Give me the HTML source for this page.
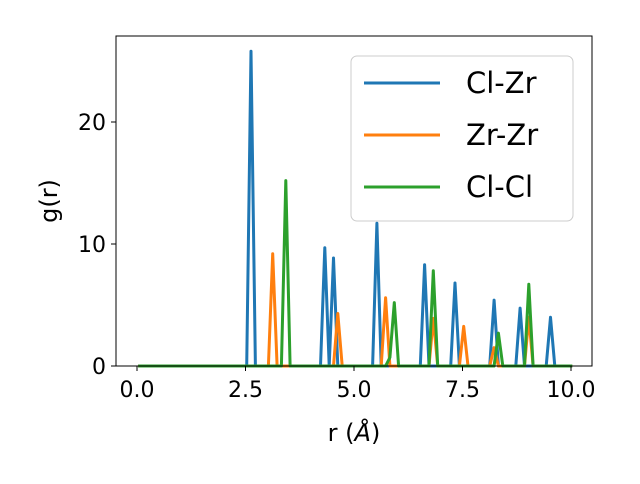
<!DOCTYPE html>
<html><head><meta charset="utf-8"><style>
body{margin:0;background:#fff;font-family:"DejaVu Sans","Liberation Sans",sans-serif}
svg text{font-family:"DejaVu Sans","Liberation Sans",sans-serif}
</style></head><body>
<svg width="640" height="480" xmlns="http://www.w3.org/2000/svg">
<rect width="640" height="480" fill="#fff"/>
<g id="plot"></g>
<rect x="116" y="36" width="476" height="330" fill="none" stroke="#000" stroke-width="1"/>
<g id="ticks"></g>
<text x="354" y="441" font-size="24" text-anchor="middle">r (<tspan font-style="italic">Å</tspan>)</text>
<text transform="translate(57,201) rotate(-90)" font-size="24" text-anchor="middle">g(r)</text>
<g>
<rect x="351" y="56" width="222" height="165" rx="6" fill="#fff" fill-opacity="0.8" stroke="#ccc"/>
<line x1="364" y1="83" x2="440" y2="83" stroke="#1f77b4" stroke-width="3"/>
<text x="466" y="93" font-size="29">Cl-Zr</text>
<line x1="364" y1="135" x2="440" y2="135" stroke="#ff7f0e" stroke-width="3"/>
<text x="466" y="145" font-size="29">Zr-Zr</text>
<line x1="364" y1="187" x2="440" y2="187" stroke="#2ca02c" stroke-width="3"/>
<text x="466" y="197" font-size="29">Cl-Cl</text>
</g>
</svg>
<script>
const xTicks=[0,2.5,5,7.5,10];
const xTickLabels=["0.0","2.5","5.0","7.5","10.0"];
const yTicks=[0,10,20];
const yTickLabels=["0","10","20"];
const clzrPos=[2.6,4.3,4.5,5.5,6.6,7.3,8.2,8.8,9.5];
const clzrVal=[25.8,9.7,8.85,11.7,8.3,6.8,5.4,4.75,4.0];
const zrzrPos=[3.1,4.6,5.7,6.8,7.5,8.2,9.0];
const zrzrVal=[9.2,4.3,5.6,3.9,3.25,1.5,4.0];
const clclPos=[3.4,5.8,5.9,6.8,8.3,9.0];
const clclVal=[15.2,0.7,5.2,7.8,2.7,6.7];
const NS="http://www.w3.org/2000/svg";
const X=v=>137+v*43.4, Y=v=>366-v*12.2;
function series(pos,val){const a=[];for(let i=0;i<=100;i++)a.push(0);pos.forEach((p,k)=>a[Math.round(p*10)]=val[k]);return a;}
const plot=document.getElementById('plot');
function draw(pos,val,color,name){
  const s=series(pos,val);
  const d=s.map((v,i)=>(i?'L':'M')+(X(i/10)+1.2).toFixed(1)+','+Y(v).toFixed(1)).join('');
  const p=document.createElementNS(NS,'path');
  p.setAttribute('d',d);p.setAttribute('fill','none');p.setAttribute('stroke',color);p.setAttribute('stroke-width','3');p.setAttribute('stroke-linejoin','round');
  
  
  plot.appendChild(p);
}
draw(clzrPos,clzrVal,'#1f77b4','series-cl-zr');
draw(zrzrPos,zrzrVal,'#ff7f0e','series-zr-zr');
draw(clclPos,clclVal,'#2ca02c','series-cl-cl');
const t=document.getElementById('ticks');
xTicks.forEach((v,i)=>{
  const l=document.createElementNS(NS,'line');
  l.setAttribute('x1',X(v));l.setAttribute('x2',X(v));l.setAttribute('y1',366);l.setAttribute('y2',371);l.setAttribute('stroke','#000');
  
  
  t.appendChild(l);
  const tx=document.createElementNS(NS,'text');
  tx.setAttribute('x',X(v));tx.setAttribute('y',397);tx.setAttribute('font-size','22');tx.setAttribute('text-anchor','middle');
  tx.textContent=xTickLabels[i];
  
  
  t.appendChild(tx);
});
yTicks.forEach((v,i)=>{
  const l=document.createElementNS(NS,'line');
  l.setAttribute('x1',111);l.setAttribute('x2',116);l.setAttribute('y1',Y(v));l.setAttribute('y2',Y(v));l.setAttribute('stroke','#000');
  
  
  t.appendChild(l);
  const tx=document.createElementNS(NS,'text');
  tx.setAttribute('x',106);tx.setAttribute('y',Y(v)+8);tx.setAttribute('font-size','22');tx.setAttribute('text-anchor','end');
  tx.textContent=yTickLabels[i];
  
  
  t.appendChild(tx);
});
</script>
</body></html>
